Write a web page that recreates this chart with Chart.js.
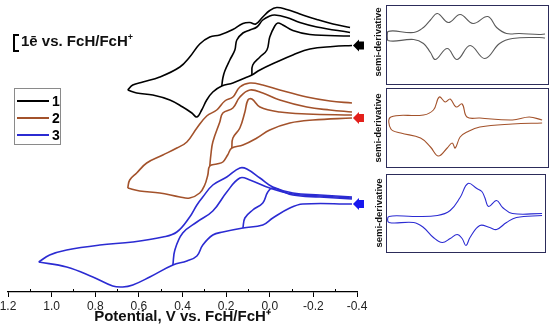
<!DOCTYPE html>
<html>
<head>
<meta charset="utf-8">
<script src="https://cdn.jsdelivr.net/npm/chart.js@4.4.0/dist/chart.umd.min.js"></script>
<style>
  body { margin: 0; background: #fff; font-family: Arial, "Liberation Sans", sans-serif; }
  #wrap { position: relative; width: 550px; height: 326px; overflow: hidden; }
  #main { position: absolute; left: 0; top: 0; }
  .inset { position: absolute; border: 1px solid #2c2c5a; box-sizing: border-box; background: #fff; }
  .inset canvas { display: block; }
  .sd { position: absolute; font-weight: bold; font-size: 9.5px; color: #111; white-space: nowrap;
        transform: translate(-50%, -50%) rotate(-90deg); }
  #legend { position: absolute; left: 14px; top: 88px; width: 47px; height: 57px;
            border: 1px solid #8a8a8a; box-sizing: border-box; }
  #legend .ln { position: absolute; left: 2px; width: 32px; height: 2px; }
  #legend .lb { position: absolute; left: 37px; font-weight: bold; font-size: 14px; line-height: 14px; }
  #bracket { position: absolute; left: 13px; top: 34px; width: 4px; height: 14px;
             border: 2.5px solid #000; border-right: none; }
  #scale { position: absolute; left: 21px; top: 32px; font-weight: bold; font-size: 15px; color: #111; }
  #scale sup { font-size: 9px; }
</style>
</head>
<body>
<div id="wrap">
  <canvas id="main" width="550" height="326" style="width:550px;height:326px"></canvas>
  <div id="bracket"></div>
  <div id="scale">1ē vs. FcH/FcH<sup>+</sup></div>
  <div id="legend"></div>
  <div class="inset" style="left:386px;top:5px;width:163px;height:80px"><canvas id="sd1" width="161" height="78"></canvas></div>
  <div class="inset" style="left:386px;top:88px;width:163px;height:80px"><canvas id="sd2" width="161" height="78"></canvas></div>
  <div class="inset" style="left:386px;top:174px;width:160px;height:79px"><canvas id="sd3" width="158" height="77"></canvas></div>
  <div class="sd" style="left:377px;top:42px">semi-derivative</div>
  <div class="sd" style="left:377px;top:128px">semi-derivative</div>
  <div class="sd" style="left:378px;top:213px">semi-derivative</div>
</div>
<script>
// potential axis (V vs FcH/FcH+)
var xTicks = [-0.4, -0.2, 0.0, 0.2, 0.4, 0.6, 0.8, 1.0, 1.2];
var xMinor = [-0.3, -0.1, 0.1, 0.3, 0.5, 0.7, 0.9, 1.1];

var compounds = ['1', '2', '3'];
var colors = ['#000000', '#a3522b', '#2b2bd2'];
var arrowColors = ['#000000', '#e3201b', '#1717ee'];

// CV traces [E / V, current (offset, arb. units)]
// compound 1: forward scan from rest potential, then three return sweeps
var cv1Fwd = [[-0.377,24.65],[-0.290,24.55],[-0.184,24.3],[-0.106,23.7],[-0.032,23.0],[0.045,22.2],
  [0.082,21.7],[0.114,21.4],[0.169,20.9],[0.220,20.6],[0.261,20.0],[0.289,19.2],[0.312,18.2],
  [0.334,17.5],[0.357,17.9],[0.399,18.5],[0.458,19.2],[0.536,19.7],[0.610,19.9],[0.651,20.2]];
var cv1RevA = [[0.651,20.2],[0.628,20.7],[0.582,21.0],[0.504,21.5],[0.412,22.5],[0.367,23.5],
  [0.321,24.8],[0.275,25.5],[0.229,25.7],[0.169,26.25],[0.123,26.85],[0.091,26.95],[0.064,26.8],
  [0.032,27.5],[0.000,28.15],[-0.032,28.45],[-0.078,28.25],[-0.138,27.8],[-0.216,27.25],
  [-0.290,26.8],[-0.368,26.45]];
var cv1RevB = [[0.220,20.6],[0.215,21.4],[0.206,22.1],[0.183,23.2],[0.160,24.2],[0.151,25.2],
  [0.123,25.9],[0.091,26.2],[0.059,26.5],[0.032,27.2],[0.000,27.6],[-0.023,27.7],[-0.078,27.45],
  [-0.138,26.95],[-0.216,26.5],[-0.368,25.95]];
var cv1RevC = [[0.082,21.7],[0.078,22.7],[0.045,23.5],[0.013,24.2],[0.000,25.5],[-0.023,26.6],
  [-0.037,26.9],[-0.060,26.7],[-0.106,26.15],[-0.184,25.75],[-0.368,25.6]];

// compound 2
var cv2Fwd = [[-0.377,17.4],[-0.198,17.2],[-0.092,16.9],[0.000,16.2],[0.059,15.4],[0.123,14.7],
  [0.174,14.4],[0.193,13.7],[0.215,13.0],[0.243,12.8],[0.275,12.6],[0.284,11.7],[0.298,10.7],
  [0.321,9.9],[0.367,9.4],[0.412,9.5],[0.504,9.9],[0.596,10.1],[0.651,10.4]];
var cv2RevA = [[0.651,10.4],[0.642,11.2],[0.610,11.9],[0.564,12.9],[0.490,13.7],[0.426,14.4],
  [0.380,15.0],[0.334,16.4],[0.289,17.6],[0.243,18.2],[0.206,19.1],[0.169,19.5],[0.137,20.5],
  [0.091,20.9],[0.032,20.7],[-0.046,20.2],[-0.170,19.5],[-0.276,19.1],[-0.377,18.9]];
var cv2RevB = [[0.275,12.6],[0.270,13.7],[0.261,15.0],[0.229,17.0],[0.215,17.9],[0.169,18.4],
  [0.137,19.5],[0.091,20.2],[0.032,19.9],[-0.046,19.2],[-0.170,18.5],[-0.276,18.2],[-0.377,18.0]];
var cv2RevC = [[0.174,14.4],[0.169,15.4],[0.137,16.4],[0.114,18.0],[0.100,19.2],[0.082,19.3],
  [0.045,18.5],[-0.046,18.0],[-0.170,17.8],[-0.377,17.7]];

// compound 3
var cv3Fwd = [[-0.377,8.8],[-0.152,8.8],[-0.092,8.4],[-0.014,7.4],[0.032,6.7],[0.123,6.4],
  [0.215,6.0],[0.261,5.7],[0.307,4.7],[0.334,3.6],[0.380,3.1],[0.444,2.7],[0.550,1.5],
  [0.628,0.7],[0.674,0.5],[0.720,0.6],[0.811,1.5],[0.931,2.5],[1.059,3.0]];
var cv3RevA = [[1.059,3.0],[1.009,3.7],[0.931,4.2],[0.779,4.7],[0.628,5.0],[0.490,5.5],
  [0.426,6.0],[0.367,7.5],[0.334,8.7],[0.307,9.5],[0.261,10.7],[0.197,11.5],[0.137,12.4],
  [0.105,12.3],[0.045,11.4],[-0.014,10.5],[-0.106,9.9],[-0.230,9.7],[-0.377,9.5]];
var cv3RevB = [[0.444,2.7],[0.435,4.2],[0.399,5.9],[0.334,7.0],[0.261,8.1],[0.197,10.0],
  [0.137,11.4],[0.091,11.2],[0.000,10.4],[-0.106,9.8],[-0.230,9.6],[-0.377,9.4]];
var cv3RevC = [[0.123,6.4],[0.114,7.4],[0.078,8.2],[0.032,8.9],[0.009,10.0],[-0.014,10.4],
  [-0.106,9.7],[-0.230,9.5],[-0.377,9.3]];

// semi-derivative insets [E / V, signal (arb. units)]
var sd1Upper = [[0.793,13.5],[0.601,12.5],[0.528,17.5],[0.476,25],[0.424,31.5],[0.343,22.5],
  [0.255,30.5],[0.159,21.5],[0.049,28.5],[-0.017,17.5],[-0.091,11.5],[-0.187,11.5],[-0.334,10.5],[-0.378,11]];
var sd1Lower = [[0.793,4.5],[0.601,5.5],[0.528,1.5],[0.476,-7.5],[0.439,-14.5],[0.351,-3.5],
  [0.277,-14.5],[0.181,-0.5],[0.071,-13.5],[-0.039,1.5],[-0.135,6.5],[-0.334,7.5],[-0.378,7]];
var sd2Upper = [[0.771,11],[0.528,13],[0.454,18],[0.410,31],[0.366,26],[0.329,29],[0.285,21],
  [0.240,24],[0.204,11],[0.108,10],[-0.135,8],[-0.260,11],[-0.356,8]];
var sd2Lower = [[0.771,-1],[0.697,-5],[0.550,-10],[0.476,-19],[0.417,-28],[0.351,-20],[0.314,-15],
  [0.292,-20],[0.255,-9],[0.204,-4],[0.108,1],[-0.135,4],[-0.356,5]];
var sd3Upper = [[0.785,-3],[0.601,-3],[0.424,-2],[0.329,3],[0.255,16],[0.196,30],[0.130,25],
  [0.093,22],[0.071,16],[0.042,7],[-0.017,13],[-0.062,6],[-0.135,0],[-0.356,0]];
var sd3Lower = [[0.785,-9],[0.601,-9],[0.528,-14],[0.454,-24],[0.388,-29],[0.329,-25],[0.277,-21],
  [0.240,-25],[0.211,-32],[0.181,-24],[0.108,-12],[0.034,-14],[-0.017,-16],[-0.091,-9],
  [-0.165,-4],[-0.356,-2]];

var FONT = 'Arial, "Liberation Sans", sans-serif';

function pts(arr) {
  return arr.map(function (p) { return { x: p[0], y: p[1] }; });
}

function trace(arr, color, arrow) {
  return { data: pts(arr), borderColor: color, showLine: true, arrowColor: arrow || null };
}

var datasets = [
  trace(cv1Fwd, colors[0], arrowColors[0]), trace(cv1RevA, colors[0]), trace(cv1RevB, colors[0]), trace(cv1RevC, colors[0]),
  trace(cv2Fwd, colors[1], arrowColors[1]), trace(cv2RevA, colors[1]), trace(cv2RevB, colors[1]), trace(cv2RevC, colors[1]),
  trace(cv3Fwd, colors[2], arrowColors[2]), trace(cv3RevA, colors[2]), trace(cv3RevB, colors[2]), trace(cv3RevC, colors[2])
];

//minor ticks on the potential axis
var minorTicks = {
  id: 'minorTicks',
  afterDraw: function (chart) {
    var ctx = chart.ctx, xs = chart.scales.x, y = chart.chartArea.bottom;
    ctx.save();
    ctx.strokeStyle = '#000';
    ctx.lineWidth = 1;
    xMinor.forEach(function (v) {
      var px = Math.round(xs.getPixelForValue(v)) + 0.5;
      ctx.beginPath();
      ctx.moveTo(px, y);
      ctx.lineTo(px, y - 3);
      ctx.stroke();
    });
    ctx.restore();
  }
};

//start arrows at the rest potential
var startArrows = {
  id: 'startArrows',
  afterDatasetsDraw: function (chart) {
    var ctx = chart.ctx;
    chart.data.datasets.forEach(function (ds, i) {
      if (!ds.arrowColor) return;
      var p = chart.getDatasetMeta(i).data[0];
      var x = p.x + 1, y = p.y;
      ctx.save();
      ctx.fillStyle = ds.arrowColor;
      ctx.beginPath();
      ctx.moveTo(x, y);
      ctx.lineTo(x + 6, y - 6);
      ctx.lineTo(x + 6, y - 4);
      ctx.lineTo(x + 11, y - 4);
      ctx.lineTo(x + 11, y + 4);
      ctx.lineTo(x + 6, y + 4);
      ctx.lineTo(x + 6, y + 6);
      ctx.closePath();
      ctx.fill();
      ctx.restore();
    });
  }
};

new Chart(document.getElementById('main'), {
  type: 'scatter',
  data: { datasets: datasets },
  options: {
    responsive: false,
    animation: false,
    layout: { padding: { left: 8, right: 193, top: 0, bottom: 0 } },
    plugins: { legend: { display: false }, tooltip: { enabled: false } },
    elements: {
      point: { radius: 0 },
      line: { tension: 0.4, borderWidth: 1.6, fill: false }
    },
    scales: {
      x: {
        type: 'linear', reverse: true, min: -0.4, max: 1.2, position: 'bottom',
        afterBuildTicks: function (s) { s.ticks = xTicks.map(function (v) { return { value: v }; }); },
        afterFit: function (s) { s.height = 34; },
        grid: { display: true, drawOnChartArea: false, drawTicks: true, tickLength: 5, color: '#000', lineWidth: 1 },
        border: { display: true, color: '#000', width: 1.3 },
        ticks: {
          font: { size: 12, family: FONT }, color: '#222', padding: 2, maxRotation: 0,
          callback: function (v) { return Math.abs(v) < 1e-9 ? '0.0' : Number(v).toFixed(1); }
        },
        title: {
          display: true, text: 'Potential, V vs. FcH/FcH\u207A', color: '#111',
          font: { size: 15, weight: 'bold', family: FONT }, padding: { top: 2, bottom: 0 }
        }
      },
      y: { display: false, min: 0, max: 29.2 }
    }
  },
  plugins: [minorTicks, startArrows]
});

function inset(id, upper, lower, color, xMin, yHalf) {
  var loop = lower.slice().reverse().concat(upper);
  new Chart(document.getElementById(id), {
    type: 'scatter',
    data: { datasets: [{ data: pts(loop), borderColor: color, showLine: true, borderWidth: 1.1, tension: 0.4 }] },
    options: {
      responsive: false,
      animation: false,
      layout: { padding: 0 },
      plugins: { legend: { display: false }, tooltip: { enabled: false } },
      elements: { point: { radius: 0 } },
      scales: {
        x: { display: false, type: 'linear', reverse: true, min: xMin, max: 0.8 },
        y: { display: false, min: -yHalf, max: yHalf }
      }
    }
  });
}

inset('sd1', sd1Upper, sd1Lower, '#5a5a5a', -0.4, 39);
inset('sd2', sd2Upper, sd2Lower, colors[1], -0.4, 39);
inset('sd3', sd3Upper, sd3Lower, colors[2], -0.378, 38.5);

// legend
var legend = document.getElementById('legend');
compounds.forEach(function (name, i) {
  var ln = document.createElement('div');
  ln.className = 'ln';
  ln.style.top = (11 + i * 17) + 'px';
  ln.style.background = colors[i];
  legend.appendChild(ln);
  var lb = document.createElement('div');
  lb.className = 'lb';
  lb.style.top = (5 + i * 17) + 'px';
  lb.textContent = name;
  legend.appendChild(lb);
});
</script>
</body>
</html>
